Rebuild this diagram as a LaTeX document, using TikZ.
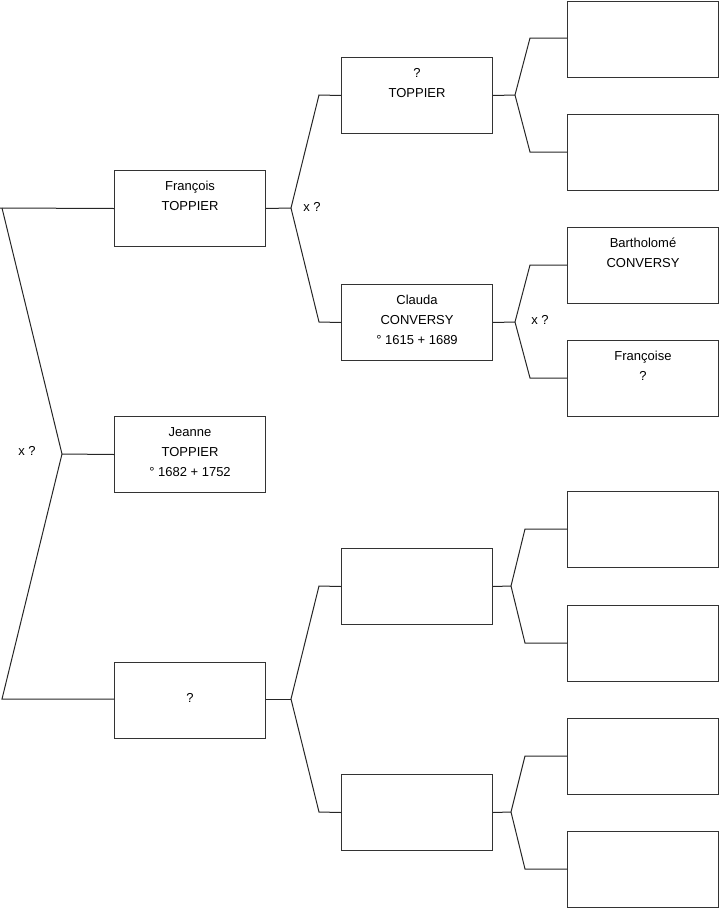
\documentclass[tikz,border=0pt]{standalone}
\usepackage{fontspec}
\setmainfont{Liberation Sans}
\newcommand\lowst{\rule[-10pt]{0pt}{10pt}}
\begin{document}
\begin{tikzpicture}[x=1pt,y=-1pt,
  person/.style={draw=black!80,line width=1pt,minimum width=151pt,minimum height=76pt,
    inner sep=0pt,align=center,anchor=north west,font=\fontsize{13}{20}\selectfont},
  link/.style={draw=black!85,line width=1pt},
  lbl/.style={font=\fontsize{13}{15}\selectfont,inner sep=0pt}]
\useasboundingbox (0,0) rectangle (719,908);
% level 1
\node[person] (fr) at (114,170) {\strut François\\\strut TOPPIER\\\strut\lowst};
\node[person] (je) at (114,416) {\strut Jeanne\\\strut TOPPIER\\\strut ° 1682 + 1752\lowst};
\node[person] (qm) at (114,662) {\strut ?\lowst};
% level 2
\node[person] (pt) at (341,57) {\strut ?\\\strut TOPPIER\\\strut\lowst};
\node[person] (cc) at (341,284) {\strut Clauda\\\strut CONVERSY\\\strut ° 1615 + 1689\lowst};
\node[person] (e1) at (341,548) {};
\node[person] (e2) at (341,774) {};
% level 3
\node[person] (g1) at (567,1) {};
\node[person] (g2) at (567,114) {};
\node[person] (bc) at (567,227) {\strut Bartholomé\\\strut CONVERSY\\\strut\lowst};
\node[person] (fq) at (567,340) {\strut Françoise\\\strut ?\\\strut\lowst};
\node[person] (g5) at (567,491) {};
\node[person] (g6) at (567,605) {};
\node[person] (g7) at (567,718) {};
\node[person] (g8) at (567,831) {};
% fork coordinates
\coordinate (a1) at (2,208); \coordinate (v0) at (62,454); \coordinate (a2) at (2,699);
\coordinate (v1) at (291,208); \coordinate (b1) at (319,95); \coordinate (b2) at (319,322);
\coordinate (v2) at (291,699); \coordinate (b3) at (319,586); \coordinate (b4) at (319,812);
\coordinate (v3) at (515,95); \coordinate (c1) at (530,38); \coordinate (c2) at (530,152);
\coordinate (v4) at (515,322); \coordinate (c3) at (530,265); \coordinate (c4) at (530,378);
\coordinate (v5) at (511,586); \coordinate (c5) at (525,529); \coordinate (c6) at (525,643);
\coordinate (v6) at (511,812); \coordinate (c7) at (525,756); \coordinate (c8) at (525,869);
\coordinate (a0) at (0,208);
% connectors
\draw[link] (fr.west) -- (a0);
\draw[link] (a1) -- (v0) -- (a2) -- (qm.west |- a2);
\draw[link] (v0) -- (je.west);
\draw[link] (fr.east) -- (v1);
\draw[link] (pt.west) -- (b1) -- (v1) -- (b2) -- (cc.west);
\draw[link] (qm.east |- v2) -- (v2);
\draw[link] (e1.west) -- (b3) -- (v2) -- (b4) -- (e2.west);
\draw[link] (pt.east) -- (v3);
\draw[link] (g1.west |- c1) -- (c1) -- (v3) -- (c2) -- (g2.west |- c2);
\draw[link] (cc.east) -- (v4);
\draw[link] (bc.west |- c3) -- (c3) -- (v4) -- (c4) -- (fq.west |- c4);
\draw[link] (e1.east) -- (v5);
\draw[link] (g5.west |- c5) -- (c5) -- (v5) -- (c6) -- (g6.west |- c6);
\draw[link] (e2.east) -- (v6);
\draw[link] (g7.west |- c7) -- (c7) -- (v6) -- (c8) -- (g8.west |- c8);
% labels
\node[lbl] (l0) at (27,451) {x ?};
\node[lbl] (l1) at (312,207) {x ?};
\node[lbl] (l2) at (540,320) {x ?};
\end{tikzpicture}
\end{document}
